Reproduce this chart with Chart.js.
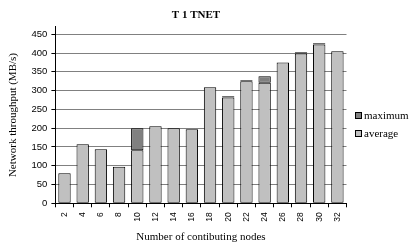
<!DOCTYPE html>
<html>
<head>
<meta charset="utf-8">
<script src="https://cdn.jsdelivr.net/npm/chart.js@4/dist/chart.umd.min.js"></script>
<style>
  html, body { margin:0; padding:0; background:#fff; }
  #wrap { width:417px; height:250px; }
</style>
</head>
<body>
<div id="wrap"><canvas id="c" width="417" height="250"></canvas></div>
<script>
// T 1 TNET — network throughput per number of contributing nodes
const nodes    = ['2','4','6','8','10','12','14','16','18','20','22','24','26','28','30','32'];
const averages = [80, 157, 144, 97, 141, 205, 200, 197, 309, 282, 325, 321, 375, 399, 423, 405];
const maximums = [null, null, null, null, 200, null, null, null, null, 285, 328, 338, null, 402, 426, null];
const yTicks   = [0, 50, 100, 150, 200, 250, 300, 350, 400, 450];

const SERIF = '"Liberation Serif", "Times New Roman", serif';
const SANS  = '"Liberation Sans", Arial, sans-serif';

// max segment floats on top of the average bar
const maxBars = maximums.map((m, i) => m == null ? null : [averages[i], m]);

// title + side legend drawn like the original
const decor = {
  id: 'decor',
  afterDraw(chart) {
    const ctx = chart.ctx;
    ctx.save();
    ctx.fillStyle = '#000';
    ctx.textBaseline = 'middle';
    ctx.textAlign = 'center';
    ctx.font = 'bold 11px ' + SERIF;
    ctx.fillText('T 1 TNET', 196, 15);

    ctx.textAlign = 'left';
    ctx.font = '11px ' + SERIF;
    const items = [
      { ds: chart.data.datasets[1], y: 112.5 },
      { ds: chart.data.datasets[0], y: 130.5 },
    ];
    items.forEach(it => {
      ctx.fillStyle = it.ds.backgroundColor;
      ctx.fillRect(355.5, it.y, 6, 6);
      ctx.strokeStyle = '#000';
      ctx.lineWidth = 1;
      ctx.strokeRect(355.5, it.y, 6, 6);
      ctx.fillStyle = '#000';
      ctx.fillText(it.ds.label, 364, it.y + 3.5);
    });
    ctx.restore();
  }
};

new Chart(document.getElementById('c'), {
  type: 'bar',
  data: {
    labels: nodes,
    datasets: [
      { label: 'average', data: averages, backgroundColor: '#c0c0c0', borderColor: '#000', borderWidth: 1, borderSkipped: false, grouped: false, order: 2 },
      { label: 'maximum', data: maxBars,  backgroundColor: '#808080', borderColor: '#000', borderWidth: 1, borderSkipped: false, grouped: false, order: 1 },
    ]
  },
  options: {
    responsive: false,
    animation: false,
    devicePixelRatio: 1,
    layout: { padding: { left: 0, right: 70.5, top: 26.8, bottom: 0 } },
    datasets: { bar: { categoryPercentage: 1, barPercentage: 0.68 } },
    plugins: { legend: { display: false }, title: { display: false }, tooltip: { enabled: false } },
    scales: {
      x: {
        afterFit: s => { s.height = 46.7; },
        border: { color: '#000', width: 1 },
        grid: { display: true, drawOnChartArea: false, tickColor: '#000', tickLength: 4, offset: true },
        ticks: { color: '#000', font: { family: SANS, size: 8.5 }, minRotation: 90, maxRotation: 90, autoSkip: false, padding: 5 },
        title: { display: true, text: 'Number of contibuting nodes', color: '#000', font: { family: SERIF, size: 11 }, padding: { top: 2, bottom: 6.4 } }
      },
      y: {
        min: 0,
        max: 470,
        afterFit: s => { s.width = 55.4; },
        afterBuildTicks: s => { s.ticks = yTicks.map(v => ({ value: v })); },
        border: { color: '#000', width: 1 },
        grid: { color: '#808080', lineWidth: 1, tickColor: '#000', tickLength: 4 },
        ticks: { color: '#000', font: { family: SANS, size: 9.5 }, padding: 4 },
        title: { display: true, text: 'Network throughput (MB/s)', color: '#000', font: { family: SERIF, size: 11 }, padding: { top: 7, bottom: 2 } }
      }
    }
  },
  plugins: [decor]
});
</script>
</body>
</html>
